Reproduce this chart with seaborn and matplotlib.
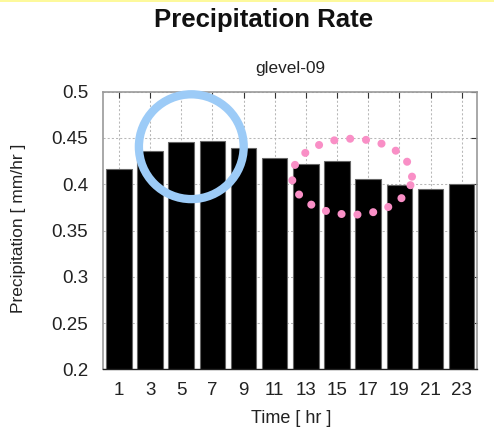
import matplotlib
matplotlib.use("Agg")
import matplotlib.pyplot as plt
from matplotlib.patches import Circle, Ellipse, Rectangle
from matplotlib.transforms import IdentityTransform
import seaborn as sns
import pandas as pd

# Hourly mean precipitation rate
hours = [1, 3, 5, 7, 9, 11, 13, 15, 17, 19, 21, 23]
precip = [0.417, 0.436, 0.446, 0.447, 0.439, 0.428,
          0.422, 0.425, 0.406, 0.399, 0.395, 0.400]
yticks = [0.2, 0.25, 0.3, 0.35, 0.4, 0.45, 0.5]
ytick_labels = ["0.2", "0.25", "0.3", "0.35", "0.4", "0.45", "0.5"]

df = pd.DataFrame({"hour": hours, "precip": precip})

sns.set_theme(style="white")
plt.rcParams["font.family"] = ["Liberation Sans", "DejaVu Sans"]

W, H = 494, 428
fig = plt.figure(figsize=(W / 100, H / 100), dpi=100)
ax = fig.add_axes([103.3 / W, 1 - 369.3 / H, 374 / W, 277.6 / H])

sns.barplot(data=df, x="hour", y="precip", color="black", width=0.82,
            edgecolor="#666666", linewidth=0.8, saturation=1, ax=ax)

ax.set_ylim(0.2, 0.5)
ax.set_xlim(-0.5, len(hours) - 0.5)
ax.set_yticks(yticks)
ax.set_yticklabels(ytick_labels)
ax.set_xlabel("")
ax.set_ylabel("")

ax.set_axisbelow(True)
ax.grid(True, linestyle=(0, (2, 2)), color="#b8b8b8", linewidth=0.75)
ax.tick_params(direction="in", length=4, width=0.8, color="#333333",
               top=True, right=True, labelsize=13.5, labelcolor="#222222")
ax.tick_params(axis="y", pad=11)
ax.tick_params(axis="x", pad=9)
for side in ["top", "right", "left"]:
    ax.spines[side].set_color("#999999")
    ax.spines[side].set_linewidth(1.2)
ax.spines["bottom"].set_color("#222222")
ax.spines["bottom"].set_linewidth(1.0)

# Titles and axis labels
fig.text(264 / W, 1 - 27 / H, "Precipitation Rate", ha="center", va="baseline",
         fontsize=18.5, fontweight="bold", color="#111111")
fig.text(290.5 / W, 1 - 72.7 / H, "glevel-09", ha="center", va="baseline",
         fontsize=12.4, color="#222222")
fig.text(19 / W, 1 - 228 / H, "Precipitation [ mm/hr ]", ha="center", va="center",
         rotation=90, fontsize=12.5, color="#222222")
fig.text(291 / W, 1 - 423 / H, "Time [ hr ]", ha="center", va="baseline",
         fontsize=13, color="#222222")

# Highlight ring around the daytime peak
fig.add_artist(Circle((191.3, H - 146.7), 52.4, transform=IdentityTransform(),
                      fill=False, edgecolor="#9ccbf7", linewidth=6.0, zorder=5))

# Dotted ellipse around the afternoon bars
dots = Ellipse((352, H - 176.7), width=76, height=120, angle=90,
               transform=IdentityTransform(), fill=False, edgecolor="#f98fc6",
               linewidth=5.8, linestyle=(0, (0.01, 1.97)), zorder=5)
dots.set_capstyle("round")
fig.add_artist(dots)

# Thin accent band along the top edge
fig.add_artist(Rectangle((0, 1 - 2.2 / H), 1, 2.2 / H, transform=fig.transFigure,
                         facecolor="#fdf99c", edgecolor="none", zorder=6))

fig.savefig("out.png", dpi=100)
